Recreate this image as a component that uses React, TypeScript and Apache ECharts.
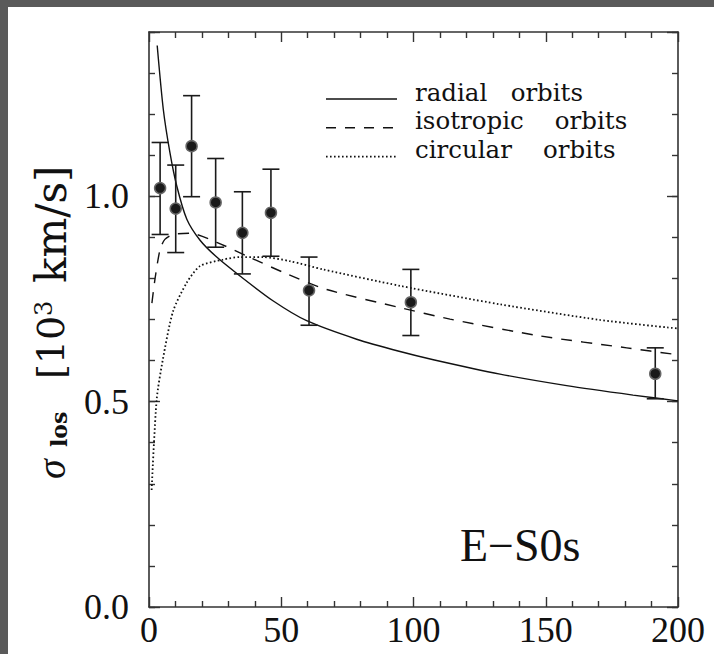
import React, { useEffect, useRef } from "react";
import * as echarts from "echarts";

// ---- data ----
const radialX = [3.1, 5.4, 7.9, 10.5, 14.3, 19.3, 25.6, 34.4, 47, 59.6, 78.5, 94.9, 107.5, 132.7, 157.9, 183, 200];
const radialY = [1.367, 1.212, 1.107, 1.025, 0.944, 0.893, 0.852, 0.806, 0.745, 0.697, 0.652, 0.622, 0.602, 0.567, 0.539, 0.516, 0.502];

const isoX = [1.1, 2.3, 4.2, 6, 9.1, 15.5, 25.6, 38.2, 50.7, 67.2, 94.9, 113.8, 147.8, 180.6, 200];
const isoY = [0.74, 0.8, 0.871, 0.895, 0.907, 0.91, 0.888, 0.851, 0.815, 0.773, 0.729, 0.701, 0.66, 0.631, 0.614];

const circX = [1.0, 2.9, 5.3, 9.1, 14.3, 19.3, 28, 34.4, 43.1, 53.3, 65.8, 94.9, 132.7, 170.5, 200];
const circY = [0.285, 0.505, 0.605, 0.72, 0.79, 0.83, 0.846, 0.852, 0.852, 0.842, 0.822, 0.782, 0.737, 0.699, 0.678];

const obsX = [4.2, 10.1, 16.1, 25.2, 35.3, 46.1, 60.5, 99.0, 191.4];
const obsY = [1.02, 0.97, 1.122, 0.985, 0.911, 0.96, 0.771, 0.742, 0.568];
const obsLo = [0.907, 0.863, 0.999, 0.876, 0.811, 0.854, 0.686, 0.661, 0.507];
const obsHi = [1.131, 1.076, 1.245, 1.092, 1.011, 1.066, 0.852, 0.822, 0.631];

const xTicks = [0, 50, 100, 150, 200];
const yTicks = [0.0, 0.5, 1.0];

const legendLabels = ["radial   orbits", "isotropic    orbits", "circular    orbits"];
const panelLabel = "E\u2212S0s";

const INK = "#111";
const AXIS = "#333";
const NUM_FONT = "'Liberation Serif', serif";
const TXT_FONT = "'DejaVu Serif', serif";

function zip(xs: number[], ys: number[]) {
  return xs.map((x, i) => [x, ys[i]]);
}

function buildOption() {
  const xMin = xTicks[0];
  const xMax = xTicks[xTicks.length - 1];
  const xInt = xTicks[1] - xTicks[0];
  const yMin = 0;
  const yMax = 1.4;
  const yInt = yTicks[1] - yTicks[0];

  const tickStyle = { color: AXIS, width: 1.4 };
  const baseX = {
    type: "value",
    min: xMin,
    max: xMax,
    interval: xInt,
    splitLine: { show: false },
    axisLine: { show: true, onZero: false, lineStyle: { color: AXIS, width: 1.6 } },
    axisTick: { show: true, inside: true, length: 10, lineStyle: tickStyle },
    minorTick: { show: true, splitNumber: 5, length: 6, lineStyle: tickStyle },
  };
  const yMajor = (position: string, labels: boolean) => ({
    type: "value",
    position,
    min: yMin,
    max: yMax,
    interval: yInt,
    splitLine: { show: false },
    axisLine: { show: true, onZero: false, lineStyle: { color: AXIS, width: 1.6 } },
    axisTick: { show: true, inside: true, length: 11, lineStyle: tickStyle },
    axisLabel: {
      show: labels,
      margin: 20,
      color: INK,
      fontFamily: NUM_FONT,
      fontSize: 36,
      formatter: (v: number) =>
        Math.abs(v / yInt - Math.round(v / yInt)) < 1e-6 ? v.toFixed(1) : "",
    },
  });
  const yMinor = (position: string) => ({
    type: "value",
    position,
    min: yMin,
    max: yMax,
    interval: 0.1,
    splitLine: { show: false },
    axisLine: { show: false, onZero: false },
    axisTick: { show: true, inside: true, length: 6, lineStyle: tickStyle },
    axisLabel: { show: false },
  });

  const lineSeries = (name: string, xs: number[], ys: number[], type: any, width: number) => ({
    name,
    type: "line",
    data: zip(xs, ys),
    smooth: 0.25,
    showSymbol: false,
    symbol: "none",
    xAxisIndex: 0,
    yAxisIndex: 0,
    lineStyle: { color: "#111", width, type },
    z: 3,
  });

  const obsData = obsX.map((x, i) => [x, obsY[i], obsLo[i], obsHi[i]]);

  const legendY = [92, 120.7, 149.7];
  const legendDash: any[] = [null, [10, 9], [1.6, 2.4]];
  const legendWidth = [1.4, 1.4, 1.8];
  const legendGraphics: any[] = [];
  legendLabels.forEach((label, i) => {
    legendGraphics.push({
      type: "line",
      shape: { x1: 318, y1: legendY[i], x2: 389, y2: legendY[i] },
      style: { stroke: "#111", lineWidth: legendWidth[i], lineDash: legendDash[i] },
    });
    legendGraphics.push({
      type: "text",
      x: 407,
      y: legendY[i] - 7,
      style: {
        text: label,
        fill: INK,
        font: `24.5px ${TXT_FONT}`,
        textAlign: "left",
        textVerticalAlign: "middle",
      },
    });
  });

  const titleParts: any[] = [
    { text: "\u03c3", x: 43, y: 472, font: `italic 40px ${NUM_FONT}` },
    { text: "los", x: 51, y: 440, font: `bold 22px ${TXT_FONT}` },
    { text: "[10", x: 43, y: 372, font: `38px ${TXT_FONT}` },
    { text: "3", x: 35.5, y: 309, font: `24px ${TXT_FONT}` },
    { text: "km/s]", x: 43, y: 276, font: `42px ${TXT_FONT}` },
  ];
  const titleGraphics = titleParts.map((p) => ({
    type: "text",
    x: p.x,
    y: p.y,
    rotation: Math.PI / 2,
    style: {
      text: p.text,
      fill: INK,
      font: p.font,
      textAlign: "left",
      textVerticalAlign: "middle",
    },
  }));

  return {
    animation: false,
    backgroundColor: "#ffffff",
    grid: { left: 141, top: 25, right: 36, bottom: 47, containLabel: false },
    xAxis: [
      {
        ...baseX,
        position: "bottom",
        axisLabel: {
          show: true,
          margin: 5,
          color: INK,
          fontFamily: NUM_FONT,
          fontSize: 36,
        },
      },
      { ...baseX, position: "top", axisLabel: { show: false } },
    ],
    yAxis: [yMajor("left", true), yMinor("left"), yMajor("right", false), yMinor("right")],
    series: [
      lineSeries("radial orbits", radialX, radialY, "solid", 1.4),
      lineSeries("isotropic orbits", isoX, isoY, [11, 9], 1.4),
      lineSeries("circular orbits", circX, circY, [1.6, 2.4], 1.8),
      {
        name: "observed",
        type: "custom",
        xAxisIndex: 0,
        yAxisIndex: 0,
        data: obsData,
        z: 5,
        renderItem: (_params: any, api: any) => {
          const x = api.value(0);
          const p = api.coord([x, api.value(1)]);
          const pl = api.coord([x, api.value(2)]);
          const ph = api.coord([x, api.value(3)]);
          const w = 8.5;
          const st = { stroke: "#1a1a1a", lineWidth: 1.6 };
          return {
            type: "group",
            children: [
              { type: "line", shape: { x1: p[0], y1: pl[1], x2: p[0], y2: ph[1] }, style: st },
              { type: "line", shape: { x1: p[0] - w, y1: ph[1], x2: p[0] + w, y2: ph[1] }, style: st },
              { type: "line", shape: { x1: p[0] - w, y1: pl[1], x2: p[0] + w, y2: pl[1] }, style: st },
              {
                type: "circle",
                shape: { cx: p[0], cy: p[1], r: 5.5 },
                style: { fill: "#1a1a1a", stroke: "#666", lineWidth: 1.5 },
              },
            ],
          };
        },
      },
    ],
    graphic: [
      ...legendGraphics,
      {
        type: "text",
        x: 452,
        y: 538.5,
        style: {
          text: panelLabel,
          fill: INK,
          font: `46px ${NUM_FONT}`,
          textAlign: "left",
          textVerticalAlign: "middle",
        },
      },
      ...titleGraphics,
    ],
  };
}

export default function App() {
  const ref = useRef<HTMLDivElement>(null);
  useEffect(() => {
    if (!ref.current) return;
    const chart = echarts.init(ref.current, null, { renderer: "svg" });
    chart.setOption(buildOption() as any);
    return () => chart.dispose();
  }, []);
  return (
    <div
      style={{
        position: "absolute",
        left: 0,
        top: 0,
        width: 714,
        height: 654,
        background: "#5a5a5a",
        overflow: "hidden",
      }}
    >
      <div
        ref={ref}
        style={{ position: "absolute", left: 8, top: 7, width: 706, height: 647, background: "#fff" }}
      />
    </div>
  );
}
